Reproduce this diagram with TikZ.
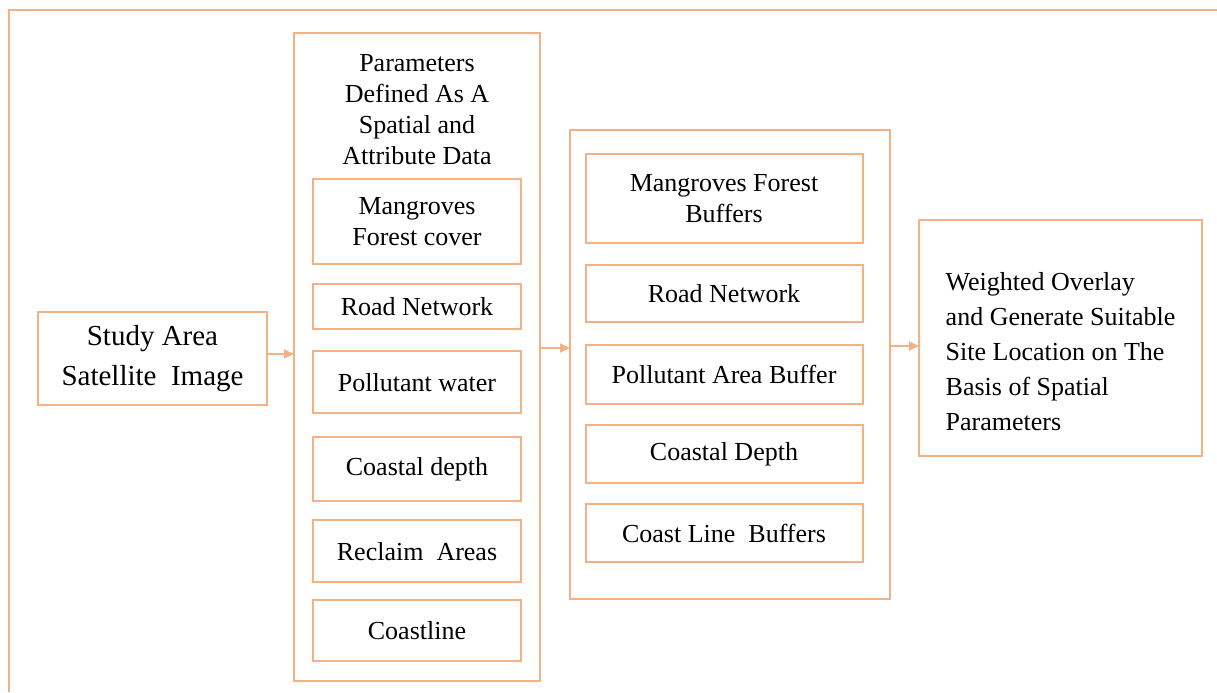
\documentclass[tikz,border=0pt]{standalone}
\usepackage{fontspec}
\setmainfont{Liberation Serif}
\usepackage{xcolor}
\usepackage{tikz}
\usetikzlibrary{arrows.meta,positioning}

\definecolor{frameorange}{HTML}{F4B183}

\begin{document}
\begin{tikzpicture}[
  x=0.5pt,y=-0.5pt,
  box/.style={rectangle,draw=frameorange,line width=1pt,align=center,inner sep=0pt,outer sep=0pt,font=\fontsize{13}{15.5}\selectfont},
  heading/.style={align=center,inner sep=0pt,outer sep=0pt,font=\fontsize{13}{15.5}\selectfont},
  arr/.style={-{Triangle[length=5pt,width=4.5pt]},draw=frameorange,line width=1pt}
]
\useasboundingbox (0,0) rectangle (1217,692);
\draw[frameorange,line width=1pt] (9,692) -- (9,10) -- (1217,10);

\node[box,minimum width=114.5pt,minimum height=46.5pt,font=\fontsize{14.5}{20}\selectfont] (study) at (152.5,358.5) {Study Area\\Satellite~ Image};

% parameters column
\node[box,minimum width=123pt,minimum height=324pt,right=13.5pt of study,yshift=0.75pt] (params) {};
\node[heading,below=10.5pt of params.north] (ptitle) {Parameters\\Defined As A\\Spatial and\\Attribute Data};
\node[box,minimum width=104pt,minimum height=42.5pt,below=7.5pt of ptitle] (cover) {Mangroves\\Forest cover};
\node[box,minimum width=104pt,minimum height=22.5pt,below=10pt of cover] (road1) {Road Network};
\node[box,minimum width=104pt,minimum height=31pt,below=11pt of road1] (water) {Pollutant water};
\node[box,minimum width=104pt,minimum height=32pt,below=12pt of water] (depth1) {Coastal depth};
\node[box,minimum width=104pt,minimum height=31pt,below=9.5pt of depth1] (reclaim) {Reclaim~ Areas};
\node[box,minimum width=104pt,minimum height=30.5pt,below=9pt of reclaim] (coastline) {Coastline};

% buffer layers
\node[box,minimum width=160pt,minimum height=234.5pt,right=15pt of params,yshift=-3.75pt] (layers) {};
\node[box,minimum width=138.5pt,minimum height=44.5pt,below=12pt of layers.north,xshift=-3pt] (buf1) {Mangroves Forest\\Buffers};
\node[box,minimum width=138.5pt,minimum height=28.5pt,below=11pt of buf1] (road2) {Road Network};
\node[box,minimum width=138.5pt,minimum height=29.5pt,below=11.5pt of road2] (pollute) {Pollutant Area Buffer};
\node[box,minimum width=138.5pt,minimum height=29pt,below=10.5pt of pollute] (depth2) {Coastal Depth};
\node[box,minimum width=138.5pt,minimum height=29pt,below=10.5pt of depth2] (coast2) {Coast Line~ Buffers};

\node[box,minimum width=141.5pt,minimum height=118pt,right=14.5pt of layers,yshift=13.25pt,align=left,font=\fontsize{13}{17.5}\selectfont] (overlay) {\rule{0pt}{23pt}Weighted Overlay\\and Generate Suitable\\Site Location on The\\Basis of Spatial\\Parameters};

\coordinate (a1) at ([yshift=2.25pt]study.east);
\coordinate (a2) at ([yshift=4.5pt]params.east);
\coordinate (a3) at ([yshift=-4pt]overlay.west);
\draw[arr] (a1) -- (a1 -| params.west);
\draw[arr] (a2) -- (a2 -| layers.west);
\draw[arr] (a3 -| layers.east) -- (a3);
\end{tikzpicture}
\end{document}
